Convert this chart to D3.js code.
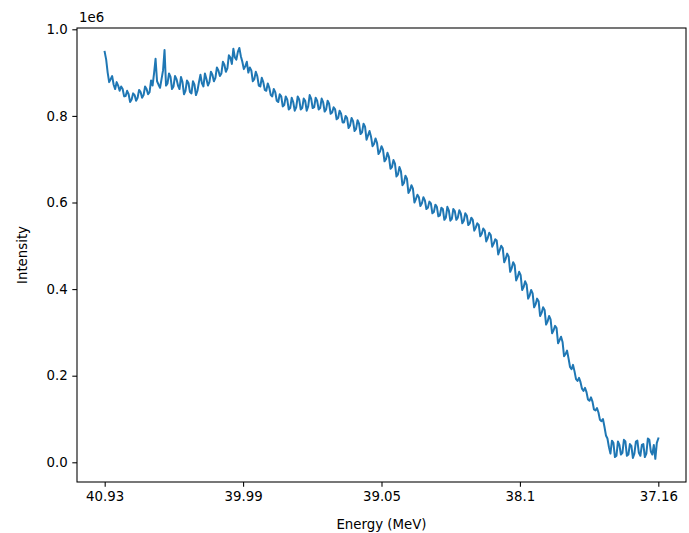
<!DOCTYPE html>
<html><head><meta charset="utf-8">
<script src="https://cdn.jsdelivr.net/npm/d3@7"></script>
<style>body{margin:0;background:#fff}svg{display:block}text{font-family:"DejaVu Sans",sans-serif;fill:#000}</style>
</head><body><svg id="c" width="689" height="533"></svg>
<script>
const energyStart = 40.93, energyEnd = 37.16;
const xTickLabels = ["40.93","39.99","39.05","38.1","37.16"];
const yTicks = [0, 0.2e6, 0.4e6, 0.6e6, 0.8e6, 1.0e6];
const yTickLabels = ["0.0","0.2","0.4","0.6","0.8","1.0"];
const unit = 1000; // intensity values below are in thousands of counts
const intensityK = [
948,930,900,878,885,892,872,862,878,870,858,868,862,845,846,858,850,832,838,852,
848,835,842,860,855,842,848,868,862,850,855,882,870,898,932,880,872,865,885,905,
952,870,875,898,890,862,868,892,885,870,862,890,878,850,858,882,876,855,852,880,
872,848,858,878,895,875,868,898,885,870,878,902,895,880,888,912,905,892,898,925,
918,902,910,940,935,920,955,935,930,948,957,938,925,908,915,925,900,912,905,880,
885,902,892,870,868,888,878,860,858,875,865,848,845,862,855,835,832,850,845,822,
825,845,838,815,818,842,832,812,820,845,838,815,818,840,835,812,822,848,840,818,
820,842,835,815,818,840,832,810,815,835,828,805,808,820,815,792,795,812,805,785,
785,800,795,772,778,795,788,765,770,790,782,758,762,782,775,745,755,765,752,730,
735,748,738,712,718,730,722,695,700,715,705,678,682,698,690,660,665,682,672,640,
645,662,655,622,628,640,632,600,608,618,612,592,598,612,605,585,588,602,598,575,
578,595,590,568,570,588,585,560,565,590,582,558,562,585,580,560,565,582,575,552,
558,575,570,548,552,565,560,535,542,552,548,522,528,540,535,510,518,530,525,498,
505,515,512,480,490,500,495,462,470,482,475,440,448,462,455,420,428,440,432,398,
405,418,410,378,385,398,390,358,365,378,372,338,345,358,352,318,325,338,330,298,
305,315,310,275,282,290,278,245,250,258,240,220,215,225,210,192,188,195,185,170,
165,172,162,145,142,150,140,122,120,125,115,98,95,100,82,62,55,35,20,50,
45,12,15,48,40,18,22,52,48,15,18,42,38,10,20,48,50,22,15,40,
42,12,20,55,52,25,18,40,8,45,55
];
const n = intensityK.length;
const energy = intensityK.map((_, i) => energyStart + (energyEnd - energyStart) * i / (n - 1));
const data = energy.map((e, i) => ({e, v: intensityK[i] * unit}));

const L = 77, R = 686, T = 28, B = 482;
const span = energyStart - energyEnd;
const x = d3.scaleLinear().domain([energyStart + 0.05*span, energyEnd - 0.05*span]).range([L, R]);
const y = d3.scaleLinear().domain([-45500, 1003000]).range([B, T]);
const xTickVals = xTickLabels.map((_, i) => energyStart - span * i / (xTickLabels.length - 1));

const svg = d3.select("#c");
svg.append("path").datum(data)
  .attr("fill","none").attr("stroke","#1f77b4").attr("stroke-width",2)
  .attr("stroke-linejoin","round").attr("stroke-linecap","square")
  .attr("d", d3.line().x(d => x(d.e)).y(d => y(d.v)));

const xAxis = svg.append("g").attr("transform",`translate(0,${B})`)
  .call(d3.axisBottom(x).tickValues(xTickVals).tickFormat((d,i)=>xTickLabels[i]).tickSize(4.7).tickPadding(4.5).tickSizeOuter(0));
const yAxis = svg.append("g").attr("transform",`translate(${L},0)`)
  .call(d3.axisLeft(y).tickValues(yTicks).tickFormat((d,i)=>yTickLabels[i]).tickSize(4.7).tickPadding(4.5).tickSizeOuter(0));
[xAxis,yAxis].forEach(g=>{
  g.select(".domain").remove();
  g.selectAll("line").attr("stroke","#000").attr("stroke-width",1.07);
  g.selectAll("text").attr("font-size","13.33px").attr("font-family","DejaVu Sans").attr("fill","#000");
});
svg.append("rect").attr("x",L).attr("y",T).attr("width",R-L).attr("height",B-T)
  .attr("fill","none").attr("stroke","#000").attr("stroke-width",1.07);

svg.append("text").attr("x",L+2).attr("y",22).attr("font-size","13.33px").text("1e6");
svg.append("text").attr("x",(L+R)/2).attr("y",529).attr("text-anchor","middle").attr("font-size","13.33px").text("Energy (MeV)");
svg.append("text").attr("transform",`translate(27,${(T+B)/2}) rotate(-90)`).attr("text-anchor","middle").attr("font-size","13.33px").text("Intensity");
</script></body></html>
